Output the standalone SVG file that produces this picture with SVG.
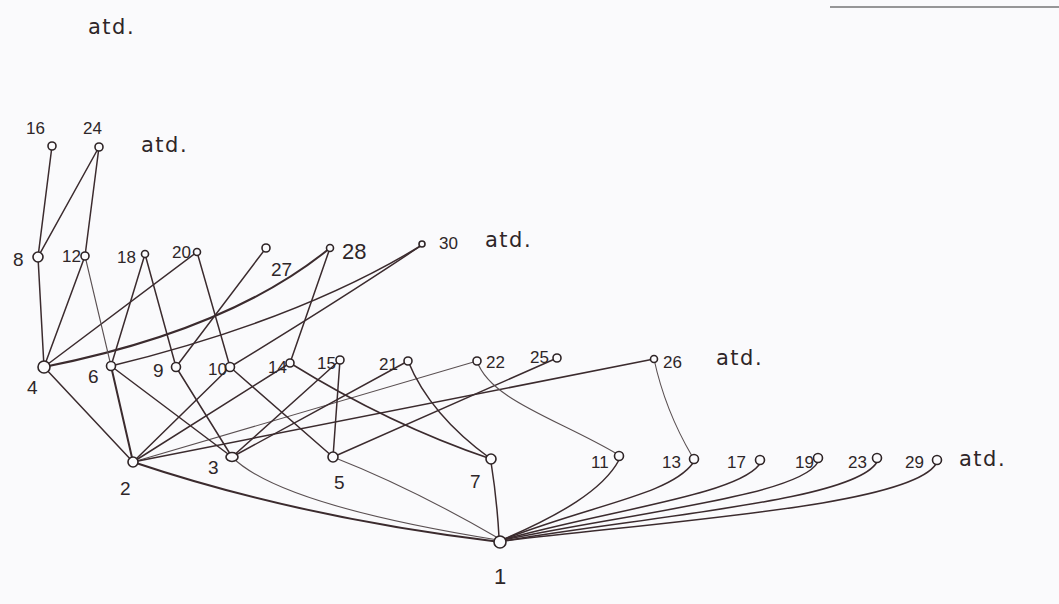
<svg xmlns="http://www.w3.org/2000/svg" width="1059" height="604" viewBox="0 0 1059 604">
<style>
.e{fill:none;stroke:#3b2b2e;stroke-width:1.5;stroke-linecap:round}
.t{stroke-width:2}
.l{stroke:#5a5052;stroke-width:1.1}
.n{fill:#fbfbfd;stroke:#2e2426;stroke-width:1.6}
.lb{font-family:"Liberation Sans",Arial,sans-serif;font-size:17px;fill:#2e2628}
.big{font-size:19px}
.atd{font-family:"DejaVu Sans","Liberation Sans",sans-serif;font-size:21px;fill:#2e2628;letter-spacing:1.5px}
</style>
<rect width="1059" height="604" fill="#fafafc"/>
<line x1="830" y1="7" x2="1059" y2="7" stroke="#333" stroke-width="1.2"/>
<text class="atd" x="88" y="34">atd.</text>
<text class="atd" x="141" y="152">atd.</text>
<text class="atd" x="485" y="247">atd.</text>
<text class="atd" x="716" y="365">atd.</text>
<text class="atd" x="959" y="466">atd.</text>
<g id="connectors">
<path class="e t" d="M133 462 Q300 518 500 542"/>
<path class="e l" d="M232 457 Q280 505 498 540"/>
<path class="e l" d="M333 457 Q412 488 498 538"/>
<path class="e" d="M491 462 Q497 500 499 537"/>
<path class="e" d="M502 540 C560 515 603 490 619 460"/>
<path class="e" d="M502 540 C590 505 670 495 693 463"/>
<path class="e" d="M502 540 C610 510 735 495 759 465"/>
<path class="e" d="M503 540 C640 512 800 495 818 462"/>
<path class="e" d="M503 541 C660 515 855 500 877 462"/>
<path class="e" d="M503 541 C680 520 910 505 936 464"/>
<path class="e" d="M133 462 L44 367"/>
<path class="e t" d="M133 462 L111 366"/>
<path class="e" d="M133 462 L230 367"/>
<path class="e" d="M133 462 L290 363"/>
<path class="e l" d="M133 462 L477 361"/>
<path class="e" d="M133 462 L654 359"/>
<path class="e" d="M232 457 L111 366"/>
<path class="e" d="M232 457 L176 367"/>
<path class="e" d="M232 457 L340 360"/>
<path class="e" d="M232 457 L408 361"/>
<path class="e" d="M333 457 L230 367"/>
<path class="e" d="M333 457 L340 360"/>
<path class="e" d="M333 457 L557 358"/>
<path class="e" d="M491 459 Q390 425 290 363"/>
<path class="e" d="M491 459 Q430 415 408 361"/>
<path class="e l" d="M477 361 C490 400 560 420 617 454"/>
<path class="e l" d="M654 359 Q665 410 692 456"/>
<path class="e" d="M44 367 L38 257"/>
<path class="e" d="M44 367 L85 256"/>
<path class="e" d="M44 367 L197 252"/>
<path class="e t" d="M44 367 Q230 330 330 248"/>
<path class="e l" d="M111 366 L85 256"/>
<path class="e" d="M111 366 L145 254"/>
<path class="e" d="M111 366 Q300 320 422 245"/>
<path class="e" d="M176 367 L145 254"/>
<path class="e" d="M176 367 L266 248"/>
<path class="e" d="M230 367 L197 252"/>
<path class="e" d="M230 367 Q340 300 422 245"/>
<path class="e" d="M290 363 L330 248"/>
<path class="e" d="M38 257 L52 146"/>
<path class="e" d="M38 257 L99 147"/>
<path class="e" d="M85 256 L99 147"/>
</g>
<g id="n1"><circle class="n" cx="500" cy="542" r="6"/><text class="lb" x="494" y="584" style="font-size:22px">1</text></g>
<g id="n2"><circle class="n" cx="133" cy="462" r="5"/><text class="lb big" x="120" y="495">2</text></g>
<g id="n3"><ellipse class="n" cx="232" cy="457" rx="6" ry="4.5"/><text class="lb big" x="208" y="474">3</text></g>
<g id="n5"><circle class="n" cx="333" cy="457" r="5"/><text class="lb big" x="334" y="489">5</text></g>
<g id="n7"><circle class="n" cx="491" cy="459" r="5"/><text class="lb big" x="470" y="488">7</text></g>
<g id="n11"><circle class="n" cx="619" cy="456" r="4.5"/><text class="lb" x="591" y="468">11</text></g>
<g id="n13"><circle class="n" cx="694" cy="459" r="4.5"/><text class="lb" x="662" y="468">13</text></g>
<g id="n17"><circle class="n" cx="760" cy="460" r="4.5"/><text class="lb" x="727" y="468">17</text></g>
<g id="n19"><circle class="n" cx="818" cy="458" r="4.5"/><text class="lb" x="795" y="468">19</text></g>
<g id="n23"><circle class="n" cx="877" cy="458" r="4.5"/><text class="lb" x="848" y="468">23</text></g>
<g id="n29"><circle class="n" cx="937" cy="460" r="4.5"/><text class="lb" x="905" y="468">29</text></g>
<g id="n4"><circle class="n" cx="44" cy="367" r="6"/><text class="lb big" x="27" y="394">4</text></g>
<g id="n6"><circle class="n" cx="111" cy="366" r="4.5"/><text class="lb big" x="88" y="383">6</text></g>
<g id="n9"><circle class="n" cx="176" cy="367" r="4.5"/><text class="lb big" x="153" y="377">9</text></g>
<g id="n10"><circle class="n" cx="230" cy="367" r="4.5"/><text class="lb" x="208" y="375">10</text></g>
<g id="n14"><circle class="n" cx="290" cy="363" r="4"/><text class="lb" x="268" y="373">14</text></g>
<g id="n15"><circle class="n" cx="340" cy="360" r="4"/><text class="lb" x="317" y="369">15</text></g>
<g id="n21"><circle class="n" cx="408" cy="361" r="4"/><text class="lb" x="379" y="370">21</text></g>
<g id="n22"><circle class="n" cx="477" cy="361" r="4"/><text class="lb" x="486" y="368">22</text></g>
<g id="n25"><circle class="n" cx="557" cy="358" r="4"/><text class="lb" x="530" y="363">25</text></g>
<g id="n26"><circle class="n" cx="654" cy="359" r="3.5"/><text class="lb" x="663" y="368">26</text></g>
<g id="n8"><circle class="n" cx="38" cy="257" r="5"/><text class="lb big" x="13" y="266">8</text></g>
<g id="n12"><circle class="n" cx="85" cy="256" r="4"/><text class="lb" x="62" y="262">12</text></g>
<g id="n18"><circle class="n" cx="145" cy="254" r="3.5"/><text class="lb" x="117" y="263">18</text></g>
<g id="n20"><circle class="n" cx="197" cy="252" r="3.5"/><text class="lb" x="172" y="258">20</text></g>
<g id="n27"><circle class="n" cx="266" cy="248" r="4"/><text class="lb big" x="271" y="276">27</text></g>
<g id="n28"><circle class="n" cx="330" cy="248" r="3.5"/><text class="lb" x="342" y="259" style="font-size:22px">28</text></g>
<g id="n30"><circle class="n" cx="422" cy="244" r="3"/><text class="lb" x="439" y="249">30</text></g>
<g id="n16"><circle class="n" cx="52" cy="146" r="4"/><text class="lb" x="26" y="134">16</text></g>
<g id="n24"><circle class="n" cx="99" cy="147" r="4"/><text class="lb" x="83" y="134">24</text></g>
</svg>
